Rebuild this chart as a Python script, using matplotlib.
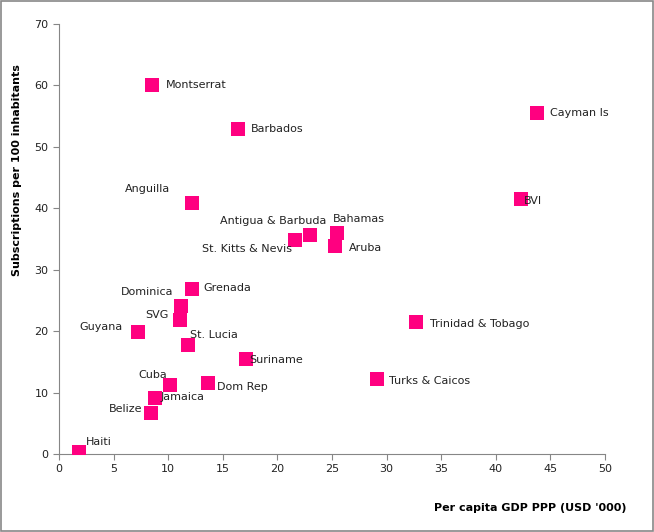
import matplotlib.pyplot as plt
from matplotlib.patches import Rectangle

# Caribbean: per capita GDP vs subscriptions per 100 inhabitants
COUNTRIES = ["Montserrat", "Barbados", "Anguilla", "St. Kitts & Nevis", "Antigua & Barbuda",
             "Bahamas", "Aruba", "Cayman Is", "BVI", "Grenada", "Dominica", "SVG", "Guyana",
             "St. Lucia", "Suriname", "Cuba", "Dom Rep", "Jamaica", "Belize", "Haiti",
             "Trinidad & Tobago", "Turks & Caicos"]
GDP = [8.5, 16.4, 12.2, 21.6, 23.0, 25.5, 25.3, 43.8, 42.3, 12.2, 11.2, 11.1, 7.2,
       11.8, 17.1, 10.2, 13.6, 8.8, 8.4, 1.8, 32.7, 29.1]
SUBS = [60.1, 52.9, 40.9, 34.8, 35.6, 36.0, 33.9, 55.5, 41.5, 26.8, 24.1, 21.8, 19.8,
        17.8, 15.5, 11.2, 11.6, 9.1, 6.7, 0.3, 21.5, 12.2]

# label placement: (dx px, dy px, ha)
LABEL_POS = {
    "Montserrat": (14, 0, "left"), "Barbados": (13, 0, "left"),
    "Anguilla": (-22, 14, "right"), "St. Kitts & Nevis": (-3, -9, "right"),
    "Antigua & Barbuda": (-37, 14, "center"), "Bahamas": (-5, 14, "left"),
    "Aruba": (14, -2, "left"), "Cayman Is": (13, 0, "left"), "BVI": (3, -2, "left"),
    "Grenada": (11, 1, "left"), "Dominica": (-8, 14, "right"), "SVG": (-12, 5, "right"),
    "Guyana": (-15, 5, "right"), "St. Lucia": (2, 10, "left"), "Suriname": (4, -1, "left"),
    "Cuba": (-3, 10, "right"), "Dom Rep": (9, -4, "left"), "Jamaica": (5, 1, "left"),
    "Belize": (-8, 4, "right"), "Haiti": (7, 10, "left"),
    "Trinidad & Tobago": (14, -2, "left"), "Turks & Caicos": (12, -2, "left"),
}

fig = plt.figure(figsize=(6.54, 5.32), dpi=100)
fig.patches.append(Rectangle((0.002, 0.002), 0.996, 0.996, transform=fig.transFigure,
                             fill=False, edgecolor="#888888", linewidth=1.2))
ax = fig.add_axes([0.0902, 0.1466, 0.8349, 0.8083])

ax.scatter(GDP, SUBS, marker="s", s=95, color="#FF0080", linewidths=0, zorder=3)
for name, x, y in zip(COUNTRIES, GDP, SUBS):
    dx, dy, ha = LABEL_POS[name]
    ax.annotate(name, (x, y), xytext=(dx, dy), textcoords="offset pixels",
                ha=ha, va="center", fontsize=8, color="#222222", zorder=4)

ax.set_xlim(0, 50)
ax.set_ylim(0, 70)
ax.set_xticks(range(0, 51, 5))
ax.set_yticks(range(0, 71, 10))
for s in ["top", "right"]:
    ax.spines[s].set_visible(False)
for s in ["left", "bottom"]:
    ax.spines[s].set_color("#868686")
ax.tick_params(direction="out", length=4, color="#868686", labelsize=8, labelcolor="#222222")

fig.text(0.026, 0.68, "Subscriptions per 100 inhabitants", rotation=90, ha="center",
         va="center", fontsize=8, fontweight="bold")
fig.text(0.958, 0.045, "Per capita GDP PPP (USD '000)", ha="right", va="center",
         fontsize=8, fontweight="bold")

fig.savefig("out.png", dpi=100)
